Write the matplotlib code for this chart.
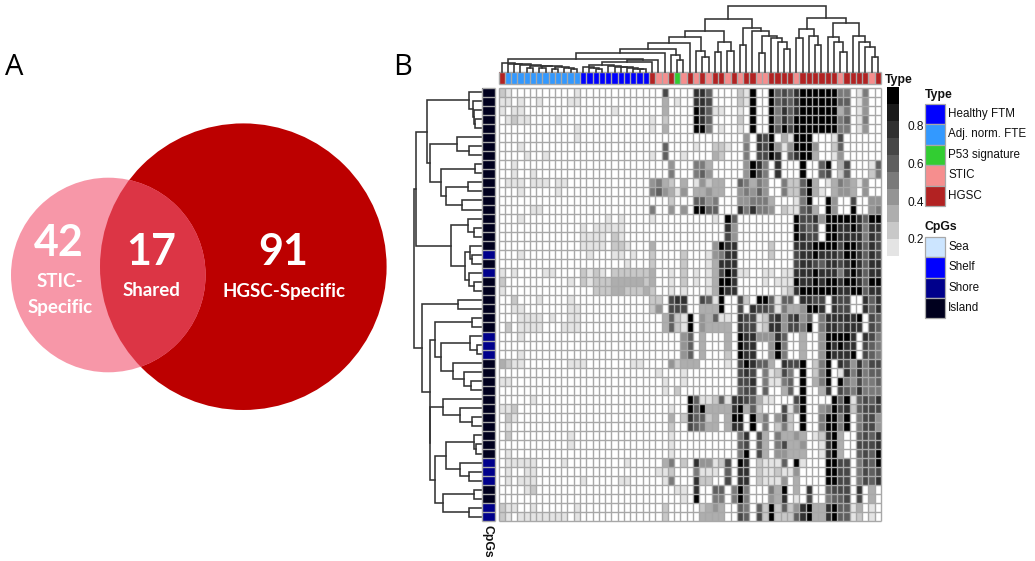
import matplotlib
matplotlib.use("Agg")
import matplotlib.pyplot as plt
import numpy as np
from matplotlib.colors import ListedColormap, BoundaryNorm
from matplotlib.cm import ScalarMappable
from matplotlib.patches import Circle, Rectangle

W, H = 1035, 561

# ---------- Venn ----------
venn_labels = [("42", "STIC-\nSpecific"), ("17", "Shared"), ("91", "HGSC-Specific")]

# ---------- Heatmap data (digit = methylation level class, 0 = white ... 9 = black) ----------
column_types = "H" + "A" * 12 + "F" * 11 + "HSSHPSHSHSHHSHSHHSSHHHHSHHHHHHSHHHHSH"
shore_rows = [18, 20, 27, 28, 29, 41, 42, 43, 46, 47]
n_rows = 48

# columns 0-23: faint values {row: {col: level}}
left_cells = {
    0: {0: 2, 1: 1, 12: 1}, 1: {0: 1, 1: 1, 3: 1, 6: 1, 11: 1, 12: 1},
    2: {0: 1, 2: 1, 3: 1, 18: 1}, 3: {1: 1, 2: 2, 3: 1, 4: 1, 9: 1},
    4: {12: 1}, 5: {12: 1}, 6: {3: 1}, 7: {4: 1, 7: 1}, 8: {2: 1}, 9: {2: 1, 5: 1},
    10: {1: 1, 2: 1, 3: 1, 5: 1, 6: 1, 7: 1, 9: 1, 10: 1}, 11: {3: 1, 9: 1},
    13: {5: 1, 6: 1}, 14: {3: 1, 17: 1, 19: 1},
    15: {13: 1, 15: 1, 16: 1, 17: 1, 18: 1, 19: 1},
    16: {13: 1, 14: 1, 15: 1, 16: 1, 18: 2, 19: 1},
    17: {13: 1, 14: 1, 15: 1, 16: 1, 18: 2, 19: 2, 20: 1},
    18: {3: 1, 14: 1, 18: 1, 19: 1, 21: 1}, 19: {20: 1},
    20: {0: 1, 2: 1, 7: 1, 8: 1, 13: 2, 14: 1, 15: 2, 16: 1, 18: 2, 19: 2, 20: 2, 21: 2, 22: 2, 23: 2},
    21: {0: 2, 11: 1, 13: 2, 14: 1, 15: 2, 16: 2, 17: 2, 18: 3, 19: 3, 20: 3, 21: 3, 22: 3, 23: 2},
    22: {0: 1, 15: 2, 16: 2, 17: 2, 18: 3, 19: 3, 20: 2, 21: 2, 22: 2, 23: 3},
    23: {2: 2, 6: 1, 11: 1}, 24: {2: 1, 3: 1, 11: 1, 12: 1},
    25: {3: 1, 4: 1, 5: 1, 6: 1, 8: 1, 11: 1, 12: 1},
    26: {1: 2, 3: 1, 4: 1, 5: 1, 6: 1, 10: 1, 11: 1, 12: 1},
    27: {3: 1}, 29: {3: 1},
    30: {0: 3, 1: 2, 2: 1, 3: 1, 11: 1, 12: 1, 13: 1, 21: 1, 22: 1},
    32: {0: 1, 1: 1}, 34: {5: 1}, 35: {0: 1, 1: 1, 2: 2}, 36: {1: 2, 2: 1},
    37: {1: 1}, 38: {1: 2, 11: 1}, 39: {11: 1}, 40: {1: 1},
    41: {1: 1, 2: 1, 3: 1, 4: 1, 5: 1, 10: 1, 20: 1}, 42: {1: 1, 4: 1, 5: 1},
    43: {1: 1, 3: 1, 4: 1, 5: 1, 13: 1, 19: 1, 20: 1}, 44: {4: 1, 5: 2},
    46: {0: 2, 1: 1, 2: 1, 5: 1, 12: 1},
    47: {0: 2, 1: 1, 3: 1, 4: 1, 5: 1, 6: 1, 7: 1, 8: 1, 9: 1, 10: 1, 12: 1},
}

# columns 24-60
right_rows = [
    "0 0 7 0 0 0 0 8 8 6 0 0 0 0 2 1 9 0 0 9 6 7 6 8 9 9 9 9 9 9 5 5 0 1 5 0 0",
    "0 0 3 0 1 0 0 8 8 7 0 0 0 0 2 1 9 0 0 9 6 7 6 8 9 9 9 9 9 9 6 6 0 1 4 0 0",
    "0 0 3 0 0 0 0 9 8 6 1 1 0 0 1 0 9 0 0 9 5 8 6 8 9 9 9 9 9 9 3 5 0 1 4 0 0",
    "1 0 2 0 0 0 0 9 8 6 0 0 0 0 2 0 9 0 0 9 5 8 6 9 9 9 9 9 9 9 5 6 0 1 5 0 0",
    "1 0 3 0 0 0 0 9 9 5 0 1 0 0 1 0 9 0 0 9 6 9 7 9 9 9 9 9 9 9 5 5 0 1 4 0 0",
    "0 0 0 0 0 0 0 0 0 0 0 0 0 0 0 4 0 8 7 9 0 3 1 9 9 9 0 0 0 1 7 0 0 0 0 0 0",
    "0 0 6 0 0 0 0 1 0 0 2 2 1 0 0 5 0 8 7 9 4 1 4 9 9 9 4 0 0 2 6 0 0 0 0 0 0",
    "1 0 6 0 0 1 0 0 0 0 3 2 0 0 0 5 0 7 7 9 8 0 6 8 9 9 3 0 0 1 4 0 0 0 0 0 0",
    "0 0 0 4 0 0 0 5 5 3 0 0 0 0 0 4 9 8 5 0 8 0 0 0 9 0 0 6 9 0 3 7 0 0 0 1 6",
    "0 0 0 5 0 0 0 5 6 4 0 0 0 0 0 4 9 7 5 0 8 0 0 0 9 0 0 6 7 0 2 6 0 0 0 2 5",
    "4 5 3 2 0 3 0 1 4 2 3 3 0 0 6 5 3 5 4 0 0 5 2 2 6 9 3 0 1 3 5 4 3 1 4 0 0",
    "5 6 4 3 1 4 0 3 3 4 3 3 0 0 4 5 4 6 4 0 0 5 2 2 6 9 3 1 0 3 4 4 3 0 4 0 0",
    "0 0 0 2 0 0 0 6 6 4 5 0 0 0 4 4 5 5 5 3 0 0 0 1 5 9 0 0 9 4 0 0 7 0 0 4 4",
    "5 0 0 4 0 4 0 9 9 6 6 0 0 0 8 5 8 5 5 4 0 2 1 1 6 7 3 0 9 4 0 0 9 0 0 4 5",
    "1 0 0 0 0 0 0 0 0 0 1 0 9 6 0 0 0 0 0 0 0 0 0 9 7 7 8 4 9 9 9 9 9 8 6 9 9",
    "0 0 0 0 0 0 0 0 0 0 0 0 8 4 0 0 0 0 0 0 0 0 0 9 7 6 7 0 9 9 8 8 9 8 5 8 8",
    "0 0 0 0 0 0 0 0 0 0 0 0 7 4 0 0 0 0 0 0 0 0 0 9 8 7 7 0 9 9 8 8 8 8 5 8 7",
    "3 0 0 0 0 0 0 0 0 0 4 9 8 8 0 0 0 0 0 2 0 0 0 8 8 8 9 9 9 9 7 9 9 8 6 8 7",
    "2 0 0 0 0 2 0 0 0 1 4 5 8 8 0 0 0 0 0 2 0 0 0 7 8 8 9 8 8 8 7 9 9 8 6 8 7",
    "2 0 0 0 0 2 0 0 0 1 3 8 8 8 0 0 0 0 0 0 0 0 0 7 8 8 7 6 8 8 7 8 9 8 6 8 8",
    "3 0 0 1 0 2 0 1 0 1 3 7 9 8 1 1 0 0 1 1 0 1 1 8 8 8 9 8 8 8 5 8 9 8 6 8 8",
    "3 0 0 1 0 2 0 1 0 1 3 9 9 8 0 0 0 0 1 0 1 1 1 9 8 8 9 8 9 9 8 9 9 8 6 9 9",
    "2 0 0 1 0 1 0 0 0 1 3 9 8 8 0 0 0 0 0 0 0 1 2 8 9 9 9 9 9 9 8 8 9 9 6 8 8",
    "2 2 0 7 8 8 0 0 7 6 1 9 0 0 7 2 0 9 9 6 1 6 6 0 8 8 7 7 0 8 7 7 0 0 8 6 8",
    "2 4 0 7 7 7 0 0 3 3 3 9 0 0 7 0 8 7 7 6 1 5 3 3 4 9 9 8 0 8 7 7 0 0 8 6 8",
    "0 0 3 6 2 1 9 0 4 3 6 1 1 0 8 7 7 1 2 7 8 4 7 8 4 6 0 5 8 8 8 8 8 9 0 7 6",
    "0 0 3 6 2 1 9 0 4 3 3 3 3 0 8 7 7 1 2 8 8 4 7 7 5 9 0 5 8 8 7 8 8 8 0 7 6",
    "0 0 0 0 0 4 6 0 3 0 0 0 3 0 9 8 8 4 4 4 8 6 0 0 3 0 0 4 9 9 9 9 8 0 8 7 5",
    "0 0 0 0 0 4 6 0 3 0 0 0 3 0 9 8 8 0 0 4 9 5 0 0 3 0 0 4 9 8 9 8 8 0 7 6 5",
    "0 0 0 0 0 4 6 0 3 0 0 0 2 0 9 8 8 0 0 4 9 5 0 0 3 0 0 4 9 8 8 8 9 0 7 6 5",
    "0 0 0 4 2 3 3 3 0 0 0 0 1 0 7 9 8 6 6 3 0 8 7 7 9 0 2 5 9 0 8 7 4 8 5 7 7",
    "0 1 0 0 0 1 0 0 0 0 0 0 0 0 7 8 7 0 5 1 2 7 5 0 9 0 2 5 9 0 1 8 5 8 5 6 6",
    "0 0 1 0 0 1 0 0 0 0 0 0 0 0 7 7 8 0 5 1 1 5 6 0 9 0 3 5 9 0 9 5 4 7 5 5 6",
    "0 0 1 0 2 0 0 0 0 0 0 0 0 0 6 7 7 0 6 0 0 3 6 0 9 0 0 3 8 0 7 6 5 8 5 5 5",
    "0 0 0 0 0 0 9 6 1 1 2 6 1 8 8 7 6 3 1 1 0 0 0 7 9 0 0 0 0 9 6 9 1 6 7 6 8",
    "0 0 0 1 0 0 9 6 9 3 3 3 3 8 9 3 6 2 0 0 0 7 1 5 9 0 0 4 5 9 7 8 2 6 7 7 7",
    "0 0 0 3 0 2 8 6 6 2 3 0 3 9 9 0 9 3 5 0 4 7 2 0 9 0 0 5 9 9 5 9 0 5 7 7 4",
    "0 0 0 2 0 0 7 6 5 3 3 0 3 8 8 0 9 0 5 0 2 5 2 0 9 0 0 5 9 9 5 9 0 5 7 7 4",
    "0 0 0 1 0 0 0 0 0 0 0 0 0 0 5 8 0 7 3 0 5 3 3 4 3 0 1 2 8 9 3 0 0 6 7 6 8",
    "0 0 0 1 0 0 0 0 0 0 0 0 0 0 6 7 0 6 3 0 5 7 3 3 4 0 0 1 8 9 3 0 0 7 7 7 8",
    "0 0 0 1 0 0 0 0 0 0 0 0 0 0 5 9 0 7 3 0 4 4 3 3 3 0 0 1 8 9 3 0 0 6 7 6 9",
    "0 0 3 5 0 2 0 8 4 4 1 2 7 0 9 8 0 2 1 1 1 6 0 9 1 0 0 0 9 9 7 7 0 5 7 6 9",
    "0 1 1 2 0 0 0 5 1 1 1 0 6 0 8 8 0 2 1 1 2 1 1 4 0 0 0 0 9 9 7 7 0 5 7 6 7",
    "0 0 1 5 0 0 0 8 2 2 0 0 7 0 8 8 0 2 1 1 1 4 0 3 0 0 0 0 9 9 7 7 0 5 7 6 8",
    "0 0 0 0 1 1 0 8 0 0 6 6 0 5 9 5 0 0 0 5 3 9 0 3 0 8 0 0 6 7 7 7 0 8 0 3 0",
    "0 0 0 0 0 1 0 9 0 0 5 5 0 5 9 5 0 0 0 4 3 8 0 1 0 7 0 0 5 6 6 7 0 7 0 3 0",
    "0 0 2 0 0 0 0 0 2 3 4 3 0 0 6 5 0 6 2 9 2 6 2 4 8 9 3 3 8 9 6 6 1 3 0 1 0",
    "0 0 2 0 0 0 0 0 3 3 3 3 0 0 7 6 0 7 2 9 2 2 2 6 8 9 3 3 8 9 6 6 1 2 0 1 0",
]
level_values = [0.05, 0.155, 0.244, 0.333, 0.422, 0.511, 0.60, 0.689, 0.80, 0.96]

# ---------- Dendrograms: (merge distance, left, right), leaves are indices ----------
light_blue_tree = (9.0, 0, (8.0, 1, (7.4, 2, (6.8, 3, (6.0, (3.2, 4, 5), (5.2, (3.2, 6, 7), (4.4, (2.8, 8, 9), (3.6, 10, (2.4, 11, 12)))))))))
blue_tree = (6.2, (4.2, 13, (3.6, 14, (3.0, 15, 16))), (5.2, 17, (4.6, 18, (4.2, 19, (3.6, 20, (3.0, 21, (2.4, 22, 23)))))))
left_arm = (28.4, (22.7, (18.4, (12.7, light_blue_tree, (12.1, (9.4, blue_tree, 24), 25)), 26),
                   (16.7, 27, (11.7, 28, 29))), 30)
col_tree = (66.0,
    (52.7,
        (40.7, (35.0, left_arm, (21.0, 31, (14.4, 32, 33))),
               (29.4, (19.4, 34, 35), (21.0, 36, 37))),
        (43.4, (26.7, 38, 39),
               (41.0, 40, (35.7, (18.4, 41, 42), (33.4, 43, (30.0, 44, (22.7, 45, 46))))))),
    (53.4,
        (42.7, (33.4, 47, 48), (36.0, 49, (26.7, 50, 51))),
        (49.0, (35.0, 52, (29.4, 53, (20.0, 54, 55))),
               (36.0, 56, (30.0, 57, (25.0, 58, (14.4, 59, 60)))))))

row_p = (54.3, (11.7, 0, (7.7, 1, (7.0, 2, (6.0, 3, 4)))),
         (51.0, (23.7, 5, (11.7, 6, 7)),
                (40.3, (6.0, 8, 9), (35.0, (12.7, 10, 11), (18.7, 12, 13)))))
row_c = (30.3, (13.3, 14, (6.7, 15, 16)),
         (16.0, (11.0, 17, (9.3, 18, 19)), (11.7, 20, (6.7, 21, 22))))
row_d = (59.3, (22.7, 23, 24),
         (51.0,
          (46.0, (8.7, 25, 26),
                 (40.3, (11.0, 27, (3.7, 28, 29)),
                        (27.7, 30, (16.7, 31, (10.3, 32, 33))))),
          (50.7,
           (38.3, 34, (21.0, 35, (8.7, 36, 37))),
           (46.0,
            (35.3, (7.0, 38, (5.0, 39, 40)), (21.0, 41, (11.7, 42, 43))),
            (37.7, (6.7, 44, 45), (11.7, 46, 47))))))
row_tree = (67.0, (65.0, row_p, row_c), row_d)

# ---------- Legends ----------
type_names = ["Healthy FTM", "Adj. norm. FTE", "P53 signature", "STIC", "HGSC"]
type_colors = ["#0000FF", "#3399FF", "#32CD32", "#F68E8E", "#B22222"]
type_codes = "FAPSH"
cpg_names = ["Sea", "Shelf", "Shore", "Island"]
cpg_colors = ["#CCE5FF", "#0000FF", "#00008B", "#00001E"]
bar_ticks = [0.2, 0.4, 0.6, 0.8]
bar_bounds = np.linspace(0.11, 1.0, 11)
bar_grays = ["#E4E4E4", "#C8C8C8", "#AEAEAE", "#949494", "#7A7A7A",
             "#5F5F5F", "#474747", "#303030", "#1A1A1A", "#000000"]

GRID = "#A8A8A8"
LINE = "#333333"
SANS = "Liberation Sans"


def box(x0, y0, x1, y1):
    return [x0 / W, 1 - y1 / H, (x1 - x0) / W, (y1 - y0) / H]


def cell_grid(ax, nx, ny):
    """Thin grid over a mesh with nx columns and ny rows."""
    ax.vlines(np.arange(nx + 1), 0, ny, color=GRID, lw=1.0, zorder=3,
              clip_on=False, antialiased=True)
    ax.hlines(np.arange(ny + 1), 0, nx, color=GRID, lw=1.0, zorder=3,
              clip_on=False, antialiased=True)
    ax.set_xticks([])
    ax.set_yticks([])
    for s in ax.spines.values():
        s.set_visible(False)


fig = plt.figure(figsize=(W / 100, H / 100), dpi=100, facecolor="white")

# page layer in pixel coordinates
page = fig.add_axes([0, 0, 1, 1])
page.set_xlim(0, W)
page.set_ylim(H, 0)
page.axis("off")

big = Circle((243.3, 266.7), 143.3, fc="#BC0000", ec="none", zorder=1)
small = Circle((108.3, 275.0), 97.3, fc="#F797A8", ec="none", zorder=2)
page.add_patch(big)
page.add_patch(small)
overlap = Circle((108.3, 275.0), 97.3, fc="#DC3545", ec="none", zorder=3)
page.add_patch(overlap)
overlap.set_clip_path(Circle((243.3, 266.7), 143.3, transform=page.transData))

vkw = dict(color="white", family="Lato", weight="bold", ha="center", va="center", zorder=5)
page.text(59.3, 243, venn_labels[0][0], fontsize=31, **vkw)
page.text(151.5, 251.5, venn_labels[1][0], fontsize=31, **vkw)
page.text(283, 251.5, venn_labels[2][0], fontsize=31, **vkw)
a, b = venn_labels[0][1].split("\n")
page.text(60, 281.5, a, fontsize=13.5, **vkw)
page.text(60, 307.5, b, fontsize=13.5, **vkw)
page.text(151, 290.5, venn_labels[1][1], fontsize=13.5, **vkw)
page.text(284, 291, venn_labels[2][1], fontsize=13.5, **vkw)

page.text(14.5, 67, "A", fontsize=21, family="Open Sans", ha="center", va="center")
page.text(403, 67, "B", fontsize=21, family="Open Sans", ha="center", va="center")

# heatmap
matrix = np.zeros((n_rows, 61), dtype=int)
for r, cells in left_cells.items():
    for c, v in cells.items():
        matrix[r, c] = v
for r, row in enumerate(right_rows):
    vals = [int(v) for v in row.split()][:37]
    matrix[r, 24:24 + len(vals)] = vals
values = np.array(level_values)[matrix]

cmap = ListedColormap(bar_grays)
cmap.set_under("white")
norm = BoundaryNorm(bar_bounds, cmap.N)

X0, X1, Y0, Y1 = 498.5, 881.0, 87.5, 521.3
hm = fig.add_axes(box(X0, Y0, X1, Y1))
hm.pcolormesh(np.arange(62), np.arange(n_rows + 1), values, cmap=cmap, norm=norm)
hm.set_xlim(0, 61)
hm.set_ylim(n_rows, 0)
cell_grid(hm, 61, n_rows)

# column annotation
ca = fig.add_axes(box(X0, 71.8, X1, 84.0))
col_codes = np.array([[type_codes.index(ch) for ch in column_types]])
ca.pcolormesh(np.arange(62), [0, 1], col_codes, cmap=ListedColormap(type_colors),
              vmin=-0.5, vmax=4.5)
ca.set_xlim(0, 61)
ca.set_ylim(0, 1)
cell_grid(ca, 61, 1)

# row annotation
ra = fig.add_axes(box(481.8, Y0, 495.0, Y1))
row_codes = np.full((n_rows, 1), 3)
row_codes[shore_rows, 0] = 2
ra.pcolormesh([0, 1], np.arange(n_rows + 1), row_codes, cmap=ListedColormap(cpg_colors),
              vmin=-0.5, vmax=3.5)
ra.set_xlim(0, 1)
ra.set_ylim(n_rows, 0)
cell_grid(ra, 1, n_rows)


def draw_tree(ax, node, horizontal):
    """Draw a merge tree; returns (leaf-axis position, distance)."""
    if isinstance(node, int):
        return node + 0.5, 0.0
    h, left, right = node
    p0, h0 = draw_tree(ax, left, horizontal)
    p1, h1 = draw_tree(ax, right, horizontal)
    xs, ys = [p0, p0, p1, p1], [h0, h, h, h1]
    if horizontal:
        ax.plot(ys, xs, color=LINE, lw=1.15, solid_joinstyle="miter", clip_on=False)
    else:
        ax.plot(xs, ys, color=LINE, lw=1.15, solid_joinstyle="miter", clip_on=False)
    return (p0 + p1) / 2, h


cd = fig.add_axes(box(X0, 5.0, X1, 71.7))
cd.set_xlim(0, 61)
cd.set_ylim(0, 66.7)
cd.axis("off")
draw_tree(cd, col_tree, False)

rd = fig.add_axes(box(414.0, Y0, 481.0, Y1))
rd.set_xlim(67, 0)
rd.set_ylim(n_rows, 0)
rd.axis("off")
draw_tree(rd, row_tree, True)

# colour bar
cax = fig.add_axes(box(886.7, 87.3, 899.0, 256.0))
cb = fig.colorbar(ScalarMappable(norm=norm, cmap=cmap), cax=cax, ticks=bar_ticks,
                  spacing="proportional", drawedges=False, extend="neither")
cb.outline.set_visible(False)
cb.minorticks_off()
cb.ax.tick_params(length=0, pad=6, labelsize=8.6)
cb.ax.set_yticklabels([f"{t:.1f}" for t in bar_ticks], family=SANS, color="#111111")

# annotation titles
page.set_zorder(hm.get_zorder() + 1)
page.patch.set_visible(False)
bkw = dict(family=SANS, weight="bold", fontsize=8.8, color="#111111", va="center")
page.text(884.5, 80, "Type", ha="left", **bkw)
page.text(488, 541, "CpGs", rotation=270, ha="center", **bkw)
page.text(924.5, 95, "Type", ha="left", **bkw)
page.text(924.5, 227, "CpGs", ha="left", **bkw)

# legends
def legend(names, colors, top, step):
    for i, (n, c) in enumerate(zip(names, colors)):
        page.add_patch(Rectangle((924.6, top + i * step), 20, step, fc=c, ec=GRID, lw=0.9, zorder=4))
        page.text(948.2, top + (i + 0.5) * step, n, family=SANS, fontsize=8.4,
                  color="#111111", ha="left", va="center")

legend(type_names, type_colors, 103.5, 20.5)
legend(cpg_names, cpg_colors, 236.8, 20.4)

fig.savefig("out.png", dpi=100, facecolor="white")
